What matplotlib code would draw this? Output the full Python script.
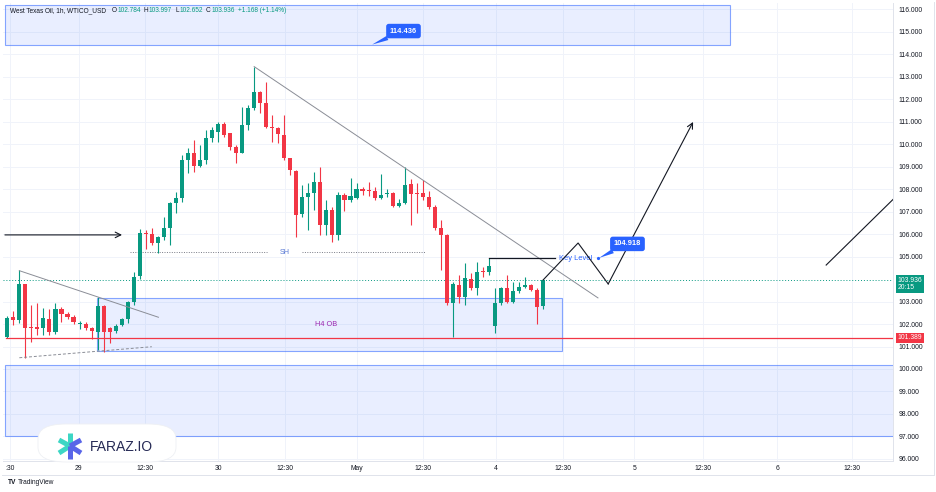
import matplotlib
matplotlib.use("Agg")
import matplotlib.pyplot as plt
from matplotlib.patches import Rectangle, FancyBboxPatch

plt.rcParams['font.family'] = ['Liberation Sans', 'DejaVu Sans']

# 1h candles, WTICO_USD (bar index = position)
opens = [101.44, 102.32, 102.18, 103.78, 101.88, 101.88, 101.84, 102.22, 101.63, 102.67,
         102.44, 102.32, 101.99, 102.00, 101.84, 101.66, 102.81, 101.84, 101.69, 101.96,
         102.22, 102.96, 104.13, 106.03, 106.00, 105.59, 105.85, 106.25, 107.39, 107.61,
         109.29, 109.61, 109.02, 109.29, 110.25, 110.55, 110.89, 110.47, 109.85, 109.61,
         110.84, 111.59, 112.33, 111.84, 110.77, 110.70, 110.40, 109.36, 108.81, 106.89,
         107.63, 107.81, 108.33, 106.40, 107.07, 105.96, 107.73, 107.51, 107.59, 107.99,
         107.96, 107.93, 107.59, 107.76, 107.84, 107.24, 107.36, 108.21, 107.84, 107.81,
         107.66, 107.21, 106.25, 105.96, 102.92, 103.73, 103.19, 103.99, 103.59, 104.36,
         104.33, 101.92, 102.92, 103.59, 102.99, 103.48, 103.63, 103.73, 103.51, 102.784]
highs = [102.35, 102.59, 104.40, 103.80, 102.84, 102.92, 102.70, 102.66, 102.92, 102.77,
         102.55, 102.40, 102.13, 102.10, 101.88, 103.19, 102.84, 101.88, 102.00, 102.28,
         103.04, 104.33, 106.21, 106.18, 106.25, 105.90, 106.77, 107.42, 107.88, 109.51,
         109.81, 110.18, 109.96, 110.62, 110.75, 111.00, 110.99, 110.50, 109.96, 111.66,
         111.73, 113.44, 112.35, 112.77, 111.29, 110.74, 111.29, 109.40, 108.85, 108.18,
         108.25, 108.77, 108.99, 107.51, 107.21, 107.88, 107.81, 108.48, 108.25, 108.08,
         108.33, 108.10, 108.67, 107.99, 107.88, 107.55, 108.99, 108.43, 108.25, 108.40,
         107.92, 107.30, 106.62, 106.00, 103.88, 104.18, 104.70, 104.25, 104.77, 104.55,
         104.92, 103.59, 103.66, 104.18, 103.88, 103.88, 104.07, 103.80, 103.59, 103.997]
lows = [101.40, 101.96, 102.03, 100.47, 101.21, 101.51, 101.51, 101.51, 101.56, 102.10,
        102.21, 102.00, 101.76, 101.73, 101.35, 100.84, 100.77, 101.17, 101.61, 101.93,
        102.03, 102.84, 104.00, 105.33, 105.51, 105.17, 105.73, 105.51, 106.92, 107.44,
        108.70, 108.77, 108.99, 109.10, 110.10, 110.10, 110.30, 109.73, 109.14, 109.59,
        110.62, 111.51, 111.36, 110.70, 110.10, 110.03, 109.29, 108.62, 105.85, 106.77,
        106.18, 107.07, 105.96, 105.96, 105.66, 105.73, 107.04, 107.44, 107.55, 107.73,
        107.69, 107.51, 107.54, 107.65, 107.20, 107.20, 107.33, 106.40, 106.92, 107.51,
        107.10, 106.18, 104.40, 102.85, 101.44, 102.92, 102.84, 103.51, 103.29, 104.10,
        104.18, 101.59, 102.84, 102.92, 102.92, 103.40, 103.59, 103.46, 101.99, 102.652]
closes = [102.28, 102.20, 103.78, 101.84, 101.84, 101.78, 102.25, 101.63, 102.67, 102.44,
          102.30, 102.10, 102.06, 101.81, 101.69, 102.81, 101.66, 101.66, 101.93, 102.22,
          102.99, 104.10, 106.03, 105.98, 105.59, 105.85, 106.25, 107.39, 107.61, 109.29,
          109.61, 109.02, 109.29, 110.25, 110.62, 110.89, 110.40, 109.88, 109.61, 110.84,
          111.59, 112.33, 111.84, 110.77, 110.70, 110.44, 109.36, 108.84, 106.84, 107.63,
          107.81, 108.33, 106.40, 107.07, 105.96, 107.73, 107.51, 107.69, 107.99, 107.93,
          107.91, 107.59, 107.73, 107.84, 107.24, 107.36, 108.18, 107.76, 107.76, 107.66,
          107.21, 106.25, 105.96, 102.92, 103.78, 103.21, 104.03, 103.59, 104.33, 104.30,
          104.58, 102.92, 103.59, 102.99, 103.48, 103.66, 103.73, 103.51, 102.77, 103.936]

# 104 is covered by the live price tag
price_ticks = [p for p in range(96, 117) if p != 104]
time_ticks = [0.45, 11.9, 22.9, 35.0, 46.1, 58.1, 69.1, 81.2, 92.3, 104.1, 115.6, 127.9, 140.3]
time_labels = [':30', '29', '12:30', '30', '12:30', 'May', '12:30', '4', '12:30', '5', '12:30', '6', '12:30']

# zones: (bar start, bar end, price low, price high)
top_zone = (-0.4, 120.0, 114.40, 116.18)
ob_zone = (14.9, 92.1, 100.80, 103.16)
bottom_zone = (-0.4, 150.0, 97.02, 100.18)

support = 101.389
last_close = 103.936
key_level = 104.918
target_level = 114.436
sh_level = 105.2
arrow_level = 105.96

trend_x = [41.0, 98.1]
trend_y = [113.44, 103.16]
tri_upper_x = [2.0, 25.1]
tri_upper_y = [104.37, 102.30]
tri_lower_x = [2.0, 24.0]
tri_lower_y = [100.50, 100.99]
zig_x = [89.0, 94.8, 99.8, 113.9]
zig_y = [103.96, 105.60, 103.78, 110.98]
right_x = [136.0, 147.5]
right_y = [104.62, 107.64]

header_title = 'West Texas Oil, 1h, WTICO_USD'
ohlc_names = ['O', 'H', 'L', 'C']
ohlc_vals = ['102.784', '103.997', '102.652', '103.936']
change_text = '+1.168 (+1.14%)'

UP = '#089981'
DOWN = '#f23645'
BLUE = '#2962ff'
INK = '#131722'

W, H = 936, 492
fig = plt.figure(figsize=(W / 100, H / 100), dpi=100)
ax = fig.add_axes([3 / W, 31 / H, 890 / W, 458 / H])
ax.set_xlim(-0.714, 147.1)
ax.set_ylim(95.911, 116.267)

ax.set_yticks(price_ticks)
ax.set_yticklabels([f'{p:.3f}' for p in price_ticks])
ax.yaxis.tick_right()
ax.set_xticks(time_ticks)
ax.set_xticklabels(time_labels)
ax.tick_params(axis='both', length=0, labelsize=4.9, labelcolor=INK)
ax.tick_params(axis='y', pad=4)
ax.tick_params(axis='x', pad=3)
ax.grid(True, color='#f0f3fa', lw=0.7)
ax.set_axisbelow(True)
for s in ax.spines.values():
    s.set_color('#e0e3eb')
    s.set_linewidth(0.7)
ax.spines['top'].set_visible(False)
ax.spines['left'].set_visible(False)

# zones
for x0, x1, y0, y1 in [top_zone, ob_zone, bottom_zone]:
    ax.add_patch(Rectangle((x0, y0), x1 - x0, y1 - y0, facecolor=(0.16, 0.38, 1.0, 0.10),
                           edgecolor=(0.16, 0.38, 1.0, 0.55), lw=0.8, zorder=1))
ax.text((ob_zone[0] + ob_zone[1]) / 2 - 0.6, 102.0, 'H4 OB', color='#9c27b0', fontsize=5.3,
        ha='center', va='center', zorder=2)

# candles
for i in range(len(opens)):
    o, h, l, c = opens[i], highs[i], lows[i], closes[i]
    col = UP if c >= o else DOWN
    ax.vlines(i, l, h, color=col, lw=0.8, zorder=3)
    ax.bar(i, max(abs(c - o), 0.04), bottom=min(o, c), width=0.68, color=col, zorder=4)

# levels
ax.axhline(support, xmin=0.003, color=DOWN, lw=0.9, zorder=5)
ax.axhline(last_close, color=UP, lw=0.7, ls=(0, (1, 2)), zorder=2)
ax.plot([20.4, 43.2], [sh_level, sh_level], color='#787b86', lw=0.7, ls=(0, (1, 1.5)), zorder=2)
ax.plot([49.0, 69.4], [sh_level, sh_level], color='#787b86', lw=0.7, ls=(0, (1, 1.5)), zorder=2)
ax.text(46.1, sh_level, 'SH', color='#5b7bd5', fontsize=5.2, ha='center', va='center', zorder=3)

ax.annotate('', xy=(19.05, arrow_level), xytext=(-0.4, arrow_level),
            arrowprops=dict(arrowstyle='->', lw=0.8, color=INK, shrinkA=0, shrinkB=0))

ax.plot(trend_x, trend_y, color='#8a8d96', lw=0.7, zorder=5)
ax.plot(tri_upper_x, tri_upper_y, color='#8a8d96', lw=0.7, zorder=5)
ax.plot(tri_lower_x, tri_lower_y, color='#8a8d96', lw=0.7, ls=(0, (3, 2)), zorder=5)

# key level
ax.plot([80, 91], [key_level, key_level], color=INK, lw=0.9, zorder=5)
ax.text(91.7, key_level, 'Key Level', color=BLUE, fontsize=5.4, ha='left', va='center', zorder=6)
ax.plot([98.1], [key_level], marker='o', ms=1.3, color=BLUE, zorder=6)
callout = dict(color='white', fontsize=5.4, fontweight='bold', ha='center', va='center', zorder=7,
               bbox=dict(boxstyle='round,pad=0.5,rounding_size=0.35', fc=BLUE, ec='none'),
               arrowprops=dict(arrowstyle='wedge,tail_width=0.6', fc=BLUE, ec='none', shrinkA=0, shrinkB=0))
ax.annotate(f'{key_level:.3f}', xy=(98.3, key_level + 0.02), xytext=(103.0, 105.56), **callout)
ax.annotate(f'{target_level:.3f}', xy=(60.6, 114.42), xytext=(65.8, 115.02), **callout)

# projected path
ax.plot(zig_x[:-1], zig_y[:-1], color=INK, lw=0.8, zorder=6)
ax.annotate('', xy=(zig_x[-1], zig_y[-1]), xytext=(zig_x[-2], zig_y[-2]),
            arrowprops=dict(arrowstyle='->', lw=0.8, color=INK, shrinkA=0, shrinkB=0), zorder=6)
ax.plot(right_x, right_y, color=INK, lw=0.8, zorder=6)

# price tags on axis
yt = ax.get_yaxis_transform()
ax.text(1.005, last_close - 0.17, f'{last_close:.3f}\n20:15', transform=yt, color='white', fontsize=4.9,
        ha='left', va='center', linespacing=1.05, clip_on=False, zorder=8,
        bbox=dict(boxstyle='square,pad=0.25', fc=UP, ec='none'))
ax.text(1.005, support, f'{support:.3f}', transform=yt, color='white', fontsize=4.9,
        ha='left', va='center', clip_on=False, zorder=8,
        bbox=dict(boxstyle='square,pad=0.25', fc=DOWN, ec='none'))

# header, laid out piece by piece
renderer = fig.canvas.get_renderer()
hy = 1 - 11 / H
x = 10.5


def put(s, col, gap):
    global x
    t = fig.text(x / W, hy, s, fontsize=4.7, color=col, va='center')
    x += t.get_window_extent(renderer).width + gap


put(header_title, INK, 5)
for name, val in zip(ohlc_names, ohlc_vals):
    put(name, INK, 0.6)
    put(val, UP, 3)
put(change_text, UP, 0)

# watermark
fig.patches.append(FancyBboxPatch((38 / W, 1 - 462 / H), 138 / W, 38 / H,
                                  boxstyle='round,pad=0,rounding_size=0.03', transform=fig.transFigure,
                                  fc='white', ec='#eef0f4', lw=0.6, zorder=10))
cx, cy = 70, 446
arms = [((0, -13), '#3dd6c4'), ((-11, -6), '#3dd6c4'), ((-11, 7), '#3dd6c4'),
        ((0, 13), '#5965e8'), ((11, 7), '#5965e8'), ((11, -6), '#5965e8')]
for (dx, dy), col in arms:
    fig.add_artist(plt.Line2D([cx / W, (cx + dx) / W], [1 - cy / H, 1 - (cy + dy) / H],
                              transform=fig.transFigure, color=col, lw=3.6, solid_capstyle='butt', zorder=11))
fig.text(90 / W, 1 - 447 / H, 'FARAZ.IO', fontsize=10, color='#262a55', va='center', zorder=12)

# footer
fig.text(8 / W, 1 - 482 / H, 'TV', fontsize=4.8, fontweight='bold', color=INK, va='center')
fig.text(18 / W, 1 - 482 / H, 'TradingView', fontsize=4.8, color=INK, va='center')
fig.add_artist(plt.Line2D([2 / W, 934 / W], [1 - 475 / H, 1 - 475 / H], transform=fig.transFigure,
                          color='#e0e3eb', lw=0.7))
fig.add_artist(plt.Line2D([934 / W, 934 / W], [1 - 475 / H, 1 - 2 / H], transform=fig.transFigure,
                          color='#e0e3eb', lw=0.7))

fig.savefig('out.png', dpi=100, facecolor='white')
